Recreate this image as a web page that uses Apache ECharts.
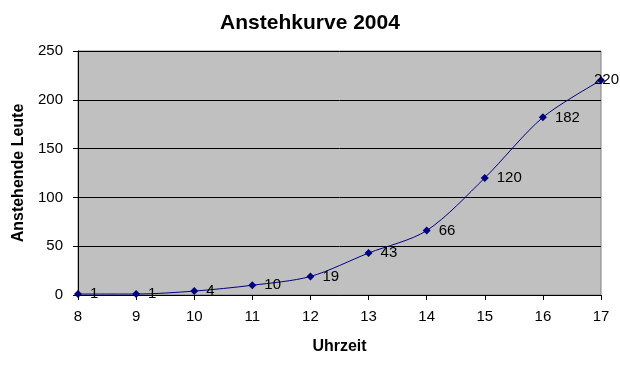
<!DOCTYPE html>
<html><head><meta charset="utf-8">
<script src="https://cdn.jsdelivr.net/npm/echarts@6/dist/echarts.min.js"></script>
<style>html,body{margin:0;padding:0;background:#fff}#c{width:620px;height:367px}</style>
</head><body><div id="c"></div>
<script>
const hours = [8, 9, 10, 11, 12, 13, 14, 15, 16, 17];
const people = [1, 1, 4, 10, 19, 43, 66, 120, 182, 220];
const yTicks = [0, 50, 100, 150, 200, 250];
const titleText = 'Anstehkurve 2004';
const xName = 'Uhrzeit';
const yName = 'Anstehende Leute';

const chart = echarts.init(document.getElementById('c'));
const F = 'Arial, "Liberation Sans", sans-serif';
const pts = hours.map((h, i) => {
  const d = {value: [h, people[i]]};
  if (i === hours.length - 1) d.label = {offset: [-19, 0]};
  return d;
});
chart.setOption({
  animation: false,
  backgroundColor: '#ffffff',
  title: {
    text: titleText, left: 'center', top: 8,
    textStyle: {fontFamily: F, fontSize: 21, fontWeight: 'bold', color: '#000'}
  },
  grid: {left: 78, right: 19, top: 51, bottom: 72, show: true, backgroundColor: '#c0c0c0', borderColor: '#808080', borderWidth: 1},
  xAxis: {
    type: 'value', min: hours[0], max: hours[hours.length - 1], interval: 1,
    name: xName, nameLocation: 'middle', nameGap: 44,
    nameTextStyle: {fontFamily: F, fontSize: 16, fontWeight: 'bold', color: '#000'},
    axisLine: {show: true, onZero: false, lineStyle: {color: '#000', width: 1}},
    axisTick: {show: true, length: 5, lineStyle: {color: '#000'}},
    axisLabel: {fontFamily: F, fontSize: 15, color: '#000', margin: 14},
    splitLine: {show: false}
  },
  yAxis: {
    type: 'value', min: yTicks[0], max: yTicks[yTicks.length - 1], interval: 50,
    name: yName, nameLocation: 'middle', nameGap: 48, nameRotate: 90,
    nameTextStyle: {fontFamily: F, fontSize: 16, fontWeight: 'bold', color: '#000'},
    axisLine: {show: true, lineStyle: {color: '#000', width: 1}},
    axisTick: {show: true, length: 5, lineStyle: {color: '#000'}},
    axisLabel: {fontFamily: F, fontSize: 15, color: '#000', margin: 15},
    splitLine: {show: true, lineStyle: {color: '#000', width: 1}}
  },
  series: [{
    type: 'line',
    data: pts,
    smooth: 0.3,
    symbol: 'diamond', symbolSize: 8,
    lineStyle: {color: '#000080', width: 1},
    itemStyle: {color: '#000080'},
    label: {show: true, position: 'right', distance: 8, fontFamily: F, fontSize: 15, color: '#000',
      formatter: p => p.value[1]}
  }]
});
</script></body></html>
